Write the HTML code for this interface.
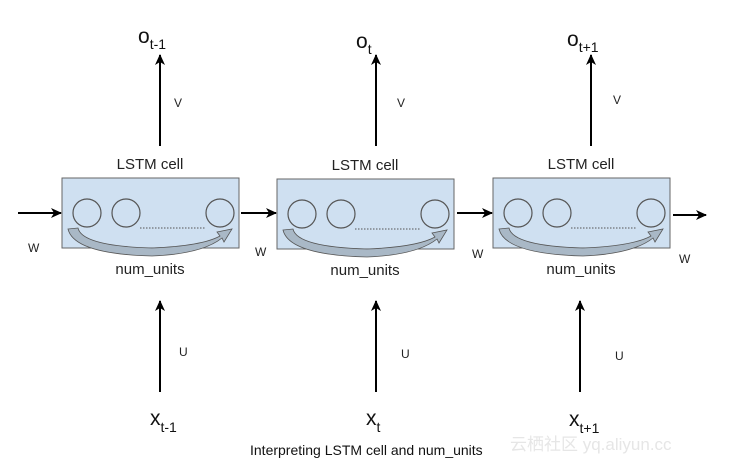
<!DOCTYPE html>
<html><head><style>
body{margin:0;background:#fff;}
svg{display:block;font-family:"Liberation Sans",Arial,sans-serif;}
</style></head><body>
<svg width="733" height="466" viewBox="0 0 733 466">
<defs>
<marker id="ah" markerWidth="11" markerHeight="10" refX="10" refY="5" orient="auto" markerUnits="userSpaceOnUse">
<path d="M0,0 L11,5 L0,10 L3,5 Z" fill="#000"/></marker>
<g id="cell">
<rect x="0" y="0" width="177" height="70" fill="#cfe0f1" stroke="#666" stroke-width="1"/>
<circle cx="25" cy="35" r="14" fill="none" stroke="#555" stroke-width="1.2"/>
<circle cx="64" cy="35" r="14" fill="none" stroke="#555" stroke-width="1.2"/>
<circle cx="158" cy="35" r="14" fill="none" stroke="#555" stroke-width="1.2"/>
<line x1="78" y1="50" x2="143" y2="50" stroke="#555" stroke-dasharray="1.5,1.5"/>
<path d="M6,51 L16,50 Q20,68 90,70 Q140,68 158,58 L155,54 L170,51 L162,64 L160,60 Q140,76 90,78 Q12,76 6,51 Z" fill="#a9b8c6" stroke="#555" stroke-width="0.8"/>
<text x="88" y="-9" font-size="15" text-anchor="middle" fill="#222">LSTM cell</text>
<text x="88" y="96" font-size="15" text-anchor="middle" fill="#222">num_units</text>
</g>
</defs>
<use href="#cell" x="62" y="178"/>
<use href="#cell" x="277" y="179"/>
<use href="#cell" x="493" y="178"/>
<g stroke="#000" stroke-width="2" marker-end="url(#ah)">
<line x1="18" y1="213" x2="61" y2="213"/>
<line x1="241" y1="213" x2="276" y2="213"/>
<line x1="457" y1="213" x2="492" y2="213"/>
<line x1="673" y1="215" x2="706" y2="215"/>
<line x1="160" y1="146" x2="160" y2="55"/>
<line x1="376" y1="146" x2="376" y2="55"/>
<line x1="591" y1="146" x2="591" y2="55"/>
<line x1="160" y1="392" x2="160" y2="301"/>
<line x1="376" y1="392" x2="376" y2="301"/>
<line x1="580" y1="392" x2="580" y2="301"/>
</g>
<g font-size="12" fill="#222">
<text x="28" y="252">W</text><text x="255" y="256">W</text><text x="472" y="258">W</text><text x="679" y="263">W</text>
<text x="174" y="107">V</text><text x="397" y="107">V</text><text x="613" y="104">V</text>
<text x="179" y="356">U</text><text x="401" y="358">U</text><text x="615" y="360">U</text>
</g>
<g font-size="21" fill="#111">
<text x="138" y="43">o<tspan font-size="14" dy="6">t-1</tspan></text>
<text x="356" y="48">o<tspan font-size="14" dy="6">t</tspan></text>
<text x="567" y="46">o<tspan font-size="14" dy="6">t+1</tspan></text>
<text x="150" y="425">x<tspan font-size="14" dy="7">t-1</tspan></text>
<text x="366" y="425">x<tspan font-size="14" dy="7">t</tspan></text>
<text x="569" y="426">x<tspan font-size="14" dy="7">t+1</tspan></text>
</g>
<text x="250" y="455" font-size="14" fill="#111">Interpreting LSTM cell and num_units</text>
<text x="510" y="450" font-size="17" fill="#e6e6e6">云栖社区 yq.aliyun.cc</text>
</svg>
</body></html>
